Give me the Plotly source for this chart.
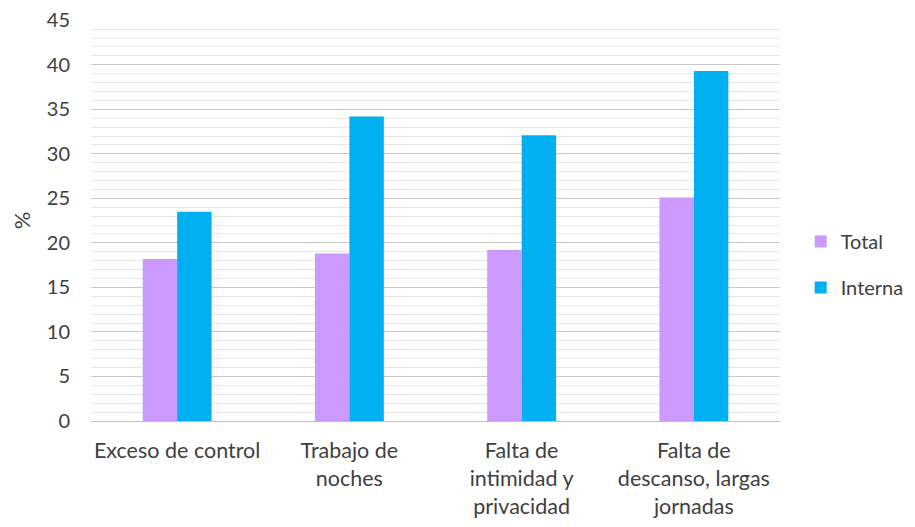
import plotly.graph_objects as go

categories = ["Exceso de control", "Trabajo de<br>noches", "Falta de<br>intimidad y<br>privacidad", "Falta de<br>descanso, largas<br>jornadas"]
total = [18.2, 18.8, 19.2, 25.1]
interna = [23.5, 34.2, 32.1, 39.3]
y_ticks = [0, 5, 10, 15, 20, 25, 30, 35, 40, 45]

FONT = "Lato"
TXT = "#404040"
fig = go.Figure()
fig.add_trace(go.Bar(name="Total", x=categories, y=total, legendgroup="a",
                     marker=dict(color="#CC99FF", line=dict(width=0))))
fig.add_trace(go.Bar(name="Interna", x=categories, y=interna, legendgroup="b",
                     marker=dict(color="#00B0F0", line=dict(width=0))))

fig.update_layout(
    width=907, height=519,
    margin=dict(l=83, r=135, t=12, b=106, autoexpand=False),
    paper_bgcolor="white", plot_bgcolor="white",
    barmode="group", bargap=0.6, bargroupgap=0,
    font=dict(family=FONT, size=21.5, color=TXT),
    legend=dict(x=1.03, y=0.39, xanchor="left", yanchor="middle", font=dict(size=20, color=TXT),
                itemwidth=30, traceorder="grouped", tracegroupgap=17, bgcolor="rgba(0,0,0,0)"),
    showlegend=True,
)
fig.update_yaxes(range=[0, 45.03], tickvals=y_ticks, showgrid=True, gridcolor="#C8C8C8", gridwidth=1,
                 minor=dict(dtick=1, showgrid=True, gridcolor="#E6E6E6", gridwidth=1),
                 zeroline=False, showline=False, ticks="", ticklabelstandoff=20, automargin=False,
                 ticklabeloverflow="allow", tickfont=dict(size=20),
                 title=dict(text="%", standoff=14, font=dict(size=22, color=TXT)))
fig.update_xaxes(showline=True, linecolor="#BFBFBF", linewidth=1, ticks="", ticklabelstandoff=10,
                 tickangle=0, showgrid=False, automargin=False)
fig.write_html("out.html")
